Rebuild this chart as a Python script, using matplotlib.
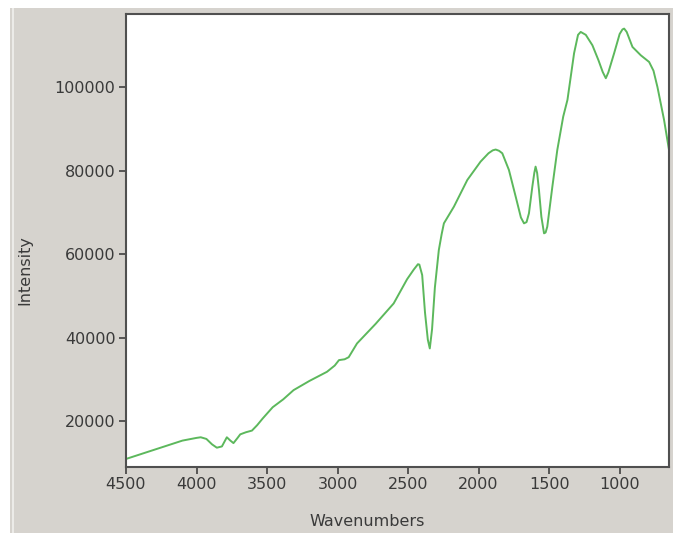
import matplotlib
matplotlib.use("Agg")
import matplotlib.pyplot as plt
from matplotlib.patches import Rectangle

# spectrum (wavenumber, intensity)
wavenumbers = [4500, 4300, 4100, 4000, 3970, 3930, 3890, 3856, 3820, 3785, 3760, 3738,
               3710, 3690, 3650, 3607, 3570, 3531, 3460, 3385, 3312, 3200, 3075,
               3020, 2990, 2950, 2921, 2862, 2730, 2602, 2507, 2460, 2430, 2420, 2400, 2380,
               2360, 2346, 2330, 2310, 2282, 2262, 2246, 2175, 2080, 1986, 1930,
               1900, 1879, 1855, 1832, 1785, 1737, 1700, 1678, 1660, 1643, 1619,
               1605, 1596, 1585, 1572, 1555, 1536, 1525, 1513, 1477, 1442, 1400, 1370,
               1323, 1295, 1276, 1240, 1193, 1150, 1120, 1098, 1080, 1039,
               1000, 980, 968, 950, 909, 850, 791, 760, 732, 685, 650]
intensity = [10900, 13100, 15300, 15950, 16100, 15700, 14400, 13600, 13900, 16100, 15300, 14700,
             15900, 16800, 17300, 17700, 19000, 20600, 23300, 25200, 27400, 29600, 31800,
             33300, 34600, 34800, 35300, 38600, 43300, 48200, 54000, 56300, 57600, 57500, 55000, 46000,
             39500, 37400, 42000, 52000, 61000, 64800, 67400, 71400, 77800, 82200, 84200,
             84900, 85100, 84800, 84200, 80200, 73800, 68800, 67400, 67700, 69800, 76200,
             79500, 81000, 79500, 75400, 69000, 65000, 65200, 66600, 76200, 85000, 93000, 97000,
             108200, 112600, 113300, 112600, 110100, 106500, 103700, 102200, 103600, 108200,
             112800, 113900, 114100, 113300, 109700, 107700, 106100, 104000, 100100, 92200, 85000]

x_ticks = [4500, 4000, 3500, 3000, 2500, 2000, 1500, 1000]
y_ticks = [20000, 40000, 60000, 80000, 100000]

W, H = 673, 533
fig = plt.figure(figsize=(W / 100, H / 100), dpi=100, facecolor="white")

# windows-style gray panel behind the plot
fig.patches.append(Rectangle((10 / W, 0), 1 - 10 / W, 1 - 8 / H, transform=fig.transFigure,
                             facecolor="#d6d3ce", edgecolor="none", zorder=-2))
fig.patches.append(Rectangle((12 / W, 0), 2 / W, 1 - 8 / H, transform=fig.transFigure,
                             facecolor="#ecebe8", edgecolor="none", zorder=-1))

ax = fig.add_axes([126 / W, 1 - 467 / H, 543 / W, 453 / H])
ax.set_zorder(2)
ax.set_facecolor("white")
ax.plot(wavenumbers, intensity, color="#5cb85c", linewidth=1.4)

ax.set_xlim(4500, 650)
ax.set_ylim(8970, 117600)
ax.set_xticks(x_ticks)
ax.set_yticks(y_ticks)
ax.set_xticklabels([str(v) for v in x_ticks])
ax.set_yticklabels([str(v) for v in y_ticks])

for s in ax.spines.values():
    s.set_color("#505050")
    s.set_linewidth(1.5)

ax.tick_params(direction="out", length=5, width=1.2, color="#404040",
               labelsize=11.5, labelcolor="#3a3a3a", pad=2.5)

fig.text(367 / W, 1 - 522 / H, "Wavenumbers", ha="center", va="center",
         fontsize=11.5, color="#3a3a3a")
fig.text(25 / W, 1 - 270 / H, "Intensity", ha="center", va="center",
         rotation=90, fontsize=11.5, color="#3a3a3a")

fig.savefig("out.png", dpi=100, facecolor="white")
